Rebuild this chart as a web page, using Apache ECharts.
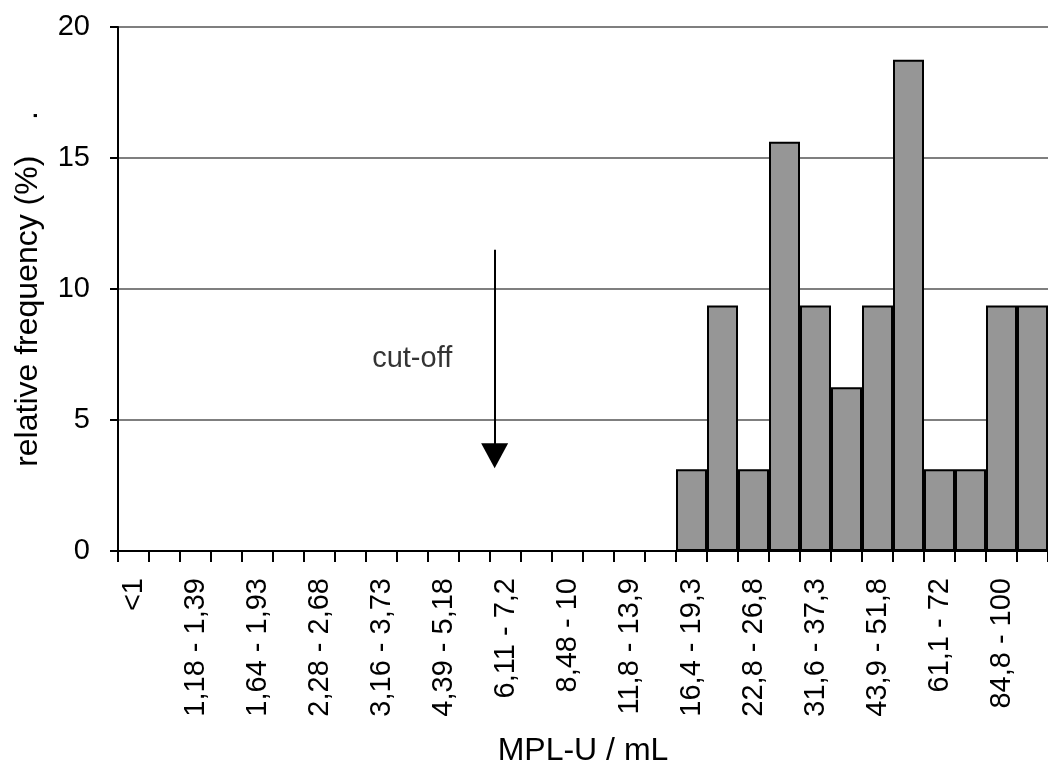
<!DOCTYPE html>
<html>
<head>
<meta charset="utf-8">
<script src="https://cdn.jsdelivr.net/npm/echarts@6/dist/echarts.min.js"></script>
<style>
html,body{margin:0;padding:0;background:#fff;}
#chart{width:1048px;height:772px;}
</style>
</head>
<body>
<div id="chart"></div>
<script>
const categories = ["<1","1 - 1,18","1,18 - 1,39","1,39 - 1,64","1,64 - 1,93","1,93 - 2,28","2,28 - 2,68","2,68 - 3,16","3,16 - 3,73","3,73 - 4,39","4,39 - 5,18","5,18 - 6,11","6,11 - 7,2","7,2 - 8,48","8,48 - 10","10 - 11,8","11,8 - 13,9","13,9 - 16,4","16,4 - 19,3","19,3 - 22,8","22,8 - 26,8","26,8 - 31,6","31,6 - 37,3","37,3 - 43,9","43,9 - 51,8","51,8 - 61,1","61,1 - 72","72 - 84,8","84,8 - 100","100 - 118"];
const frequency = [null,null,null,null,null,null,null,null,null,null,null,null,null,null,null,null,null,null,3.125,9.375,3.125,15.625,9.375,6.25,9.375,18.75,3.125,3.125,9.375,9.375];
const yTicks = [0,5,10,15,20];
// annotation positions in data units (category index scale 0..30, y in %)
const cutoffArrowX = 12.15;
const cutoffArrowTop = 11.5;
const cutoffArrowEnd = 3.64;
const cutoffLabel = "cut-off";
const cutoffLabelPos = [9.49, 7.31];

const FONT = "'Liberation Sans', Arial, sans-serif";
const chart = echarts.init(document.getElementById('chart'), null, {renderer:'canvas'});
chart.setOption({
  animation:false,
  backgroundColor:'#ffffff',
  textStyle:{fontFamily:FONT},
  grid:{left:118, right:-3, top:27, bottom:220, containLabel:false},
  xAxis:[{
    type:'category',
    data:categories,
    boundaryGap:true,
    name:'MPL-U / mL',
    nameLocation:'middle',
    nameGap:184,
    nameTextStyle:{fontSize:32, color:'#000', fontFamily:FONT},
    axisLine:{show:true, lineStyle:{color:'#000', width:2}},
    axisTick:{show:true, interval:0, length:11, lineStyle:{color:'#000', width:2}},
    axisLabel:{interval:1, rotate:90, margin:27, fontSize:29, color:'#000', fontFamily:FONT},
    splitLine:{show:false}
  },{
    type:'value', min:0, max:30, show:false
  }],
  yAxis:{
    type:'value',
    min:yTicks[0], max:yTicks[yTicks.length-1], interval:5,
    name:'relative frequency (%)    .',
    nameLocation:'middle',
    nameGap:74,
    nameTextStyle:{fontSize:32, color:'#000', fontFamily:FONT},
    axisLine:{show:true, lineStyle:{color:'#000', width:2}},
    axisTick:{show:true, length:8, lineStyle:{color:'#000', width:2}},
    axisLabel:{margin:28, fontSize:29, color:'#000', fontFamily:FONT},
    splitLine:{show:true, lineStyle:{color:'#555', width:1.5}}
  },
  series:[{
    type:'bar',
    data:frequency,
    barCategoryGap:0,
    barGap:0,
    itemStyle:{color:'#969696', borderColor:'#000', borderWidth:2},
    z:3
  },{
    type:'scatter',
    xAxisIndex:1,
    data:[cutoffLabelPos],
    symbolSize:1,
    itemStyle:{color:'transparent'},
    label:{show:true, position:'inside', formatter:cutoffLabel, fontSize:29, color:'#000', textBorderWidth:0, fontFamily:FONT},
    markLine:{
      silent:true,
      symbol:['none','triangle'],
      symbolSize:[27,25],
      label:{show:false},
      lineStyle:{color:'#000', width:2, type:'solid'},
      data:[[{coord:[cutoffArrowX, cutoffArrowTop]},{coord:[cutoffArrowX, cutoffArrowEnd]}]],
      itemStyle:{color:'#000'}
    },
    z:5
  }]
});
</script>
</body>
</html>
